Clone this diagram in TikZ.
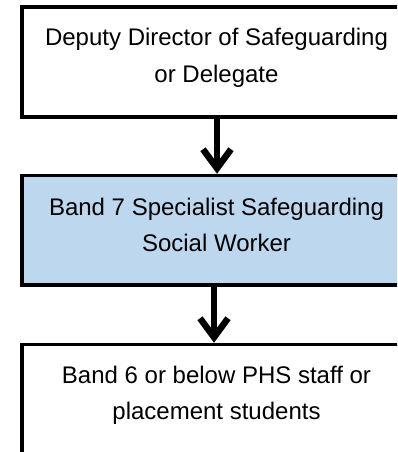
\documentclass[tikz,border=0pt]{standalone}
\usepackage{fontspec}
\setmainfont{Liberation Sans}
\usetikzlibrary{arrows.meta}
\definecolor{boxblue}{RGB}{189,215,238}
\begin{document}
\begin{tikzpicture}[x=1pt,y=-1pt,
  boxstyle/.style={draw=black, line width=3.5pt, rectangle, inner sep=0pt, minimum width=390pt},
  lbl/.style={anchor=base, inner sep=0pt, font=\fontsize{24}{36.5}\selectfont},
  flowarrow/.style={line width=6.5pt, -{Straight Barb[length=19pt,width=28pt]}}]
\useasboundingbox (0,0) rectangle (397,452);
\clip (0,0) rectangle (397,452);
\node[boxstyle, minimum height=110pt] (b1) at (217,62) {};
\node[boxstyle, fill=boxblue, minimum height=109.5pt] (b2) at (217,230.25) {};
\node[boxstyle, minimum height=125.5pt] (b3) at (217,407.25) {};
\node[lbl] (t1) at (216.5,46) {\begin{tabular}[t]{@{}c@{}}Deputy Director of Safeguarding\\or Delegate\end{tabular}};
\node[lbl] (t2) at (216.5,215) {\begin{tabular}[t]{@{}c@{}}Band 7 Specialist Safeguarding\\Social Worker\end{tabular}};
\node[lbl] (t3) at (216.5,383) {\begin{tabular}[t]{@{}c@{}}Band 6 or below PHS staff or\\placement students\end{tabular}};
\draw[flowarrow] (b1.south) -- (b2.north);
\draw[flowarrow] ([xshift=-3pt]b2.south) -- ([xshift=-3pt]b3.north);
\end{tikzpicture}
\end{document}
